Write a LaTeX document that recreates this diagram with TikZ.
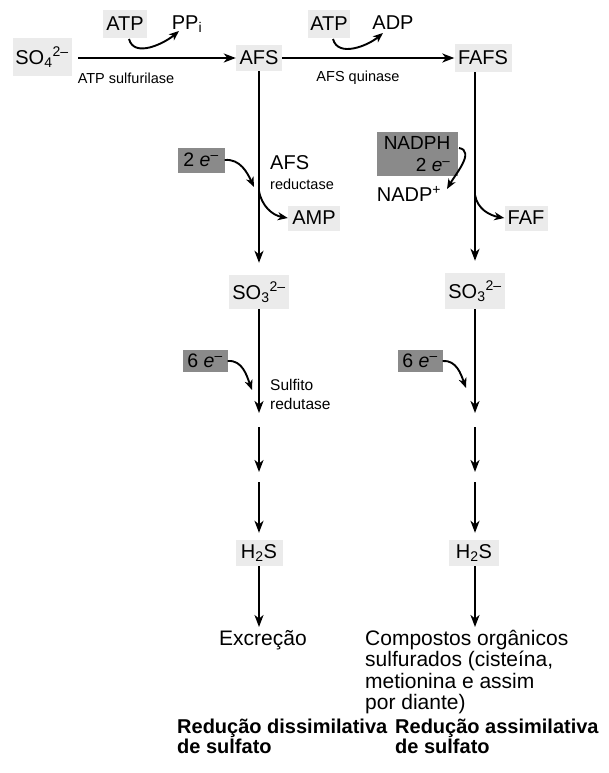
\documentclass[tikz,border=0pt]{standalone}
\usepackage{fontspec}
\setmainfont{Liberation Sans}
\usetikzlibrary{arrows.meta}
\definecolor{lgray}{HTML}{EBEBEB}
\definecolor{dgray}{HTML}{8A8A8A}
\begin{document}
\begin{tikzpicture}[x=1pt,y=1pt,
  lbox/.style={fill=lgray, inner sep=0pt, font=\fontsize{20}{22}\selectfont},
  dbox/.style={fill=dgray, inner sep=0pt, font=\fontsize{19.5}{22}\selectfont},
  txt/.style={inner sep=0pt, font=\fontsize{20}{22}\selectfont},
  small/.style={inner sep=0pt, font=\fontsize{14.5}{17}\selectfont},
  big/.style={inner sep=0pt, font=\fontsize{21}{21.5}\selectfont, align=left},
  bold/.style={inner sep=0pt, font=\fontsize{20}{18}\selectfont\bfseries, align=left},
  flow/.style={line width=2pt, -{Stealth[length=12pt,width=9pt,inset=3.5pt]}},
  curv/.style={line width=1.9pt, -{Stealth[length=10pt,width=8pt,inset=3pt]}},
]
\useasboundingbox (0,0) rectangle (608,-773);

% top row
\node[lbox, minimum width=59, minimum height=38] (so4) at (42,-57) {SO\textsubscript{4}\textsuperscript{2–}};
\node[lbox, minimum width=46, minimum height=26] (afs) at (259,-58) {AFS};
\node[lbox, minimum width=57, minimum height=28] (fafs) at (483,-58) {FAFS};
\node[lbox, minimum width=44, minimum height=28] (atpa) at (125,-24) {ATP};
\node[txt] (ppi) at (187,-24) {PP\textsubscript{i}};
\node[lbox, minimum width=42, minimum height=28] (atpb) at (329,-24) {ATP};
\node[txt] (adp) at (393,-23) {ADP};
\node[small] (sulf) at (126,-78) {ATP sulfurilase};
\node[small] (quin) at (358,-78) {AFS quinase};

\coordinate (so4out) at (78,-58);
\draw[flow] (so4out) -- (afs.west);
\draw[flow] (afs.east) -- (fafs.west);

\coordinate (atpast) at (129,-39);
\coordinate (ppitip) at (179,-31);
\draw[curv] (atpast) to[out=-75,in=-140] (ppitip);
\coordinate (atpbst) at (333,-39);
\coordinate (adptip) at (383,-33);
\draw[curv] (atpbst) to[out=-75,in=-140] (adptip);

% left column
\node[lbox, minimum width=60, minimum height=34] (so3a) at (259,-292) {SO\textsubscript{3}\textsuperscript{2–}};
\draw[flow, shorten >=12pt] (afs.south) -- (so3a.north);

\node[dbox, minimum width=47, minimum height=25] (e2a) at (201,-160) {2 \textit{e}\textsuperscript{–}};
\coordinate (e2tip) at (254,-187);
\draw[curv] (e2a.east) to[out=5,in=115] (e2tip);

\node[lbox, minimum width=52, minimum height=25] (amp) at (314,-218) {AMP};
\coordinate (ampst) at (259,-191);
\draw[curv] (ampst) to[out=-80,in=170] (amp.west);

\node[txt, anchor=west] (afsr) at (270,-163) {AFS};
\node[small, anchor=west] (red) at (270,-184) {reductase};

% right column
\node[lbox, minimum width=60, minimum height=36] (so3b) at (475,-291) {SO\textsubscript{3}\textsuperscript{2–}};
\draw[flow, shorten >=12pt] (fafs.south -| so3b.north) -- (so3b.north);

\node[dbox, minimum width=81, minimum height=44, align=right, font=\fontsize{19}{22}\selectfont] (nadph) at (417,-154) {NADPH\\2 \textit{e}\textsuperscript{–}\hspace{5pt}};
\node[txt] (nadp) at (409,-194) {NADP\textsuperscript{+}};
\coordinate (nst) at (459,-148);
\coordinate (nadptip) at (447,-189);
\draw[curv] (nst) to[out=-10,in=60] (nadptip);

\node[lbox, minimum width=43, minimum height=25] (faf) at (526,-218) {FAF};
\coordinate (fafst) at (475,-195);
\draw[curv] (fafst) to[out=-80,in=170] (faf.west);

% 6 e- inputs
\node[dbox, minimum width=45, minimum height=22] (e6a) at (205,-361) {6 \textit{e}\textsuperscript{–}};
\node[dbox, minimum width=45, minimum height=22] (e6b) at (420,-361) {6 \textit{e}\textsuperscript{–}};
\coordinate (e6atip) at (252,-390);
\coordinate (e6btip) at (466,-388);
\draw[curv] (e6a.east) to[out=5,in=110] (e6atip);
\draw[curv] (e6b.east) to[out=5,in=110] (e6btip);
\node[small, anchor=west, font=\fontsize{15.5}{17}\selectfont] (sulfito) at (270,-385) {Sulfito};
\node[small, anchor=west, font=\fontsize{15.5}{17}\selectfont] (redut) at (270,-404) {redutase};

% H2S
\node[lbox, minimum width=47, minimum height=26] (h2sa) at (259,-553) {H\textsubscript{2}S};
\node[lbox, minimum width=50, minimum height=26] (h2sb) at (474,-553) {H\textsubscript{2}S};

% segmented arrows, left
\coordinate (la1) at (259,-413);
\coordinate (la2) at (259,-427);
\coordinate (la3) at (259,-472);
\coordinate (la4) at (259,-482);
\draw[flow] (so3a.south) -- (la1);
\draw[flow] (la2) -- (la3);
\draw[flow, shorten >=7pt] (la4) -- (h2sa.north);
% right
\coordinate (ra1) at (475,-413);
\coordinate (ra2) at (475,-427);
\coordinate (ra3) at (475,-472);
\coordinate (ra4) at (475,-482);
\draw[flow] (so3b.south -| ra1) -- (ra1);
\draw[flow] (ra2) -- (ra3);
\draw[flow, shorten >=7pt] (ra4) -- (ra4 |- h2sb.north);

% end products
\node[big] (exc) at (263,-640) {Excreção};
\node[big, anchor=north west] (comp) at (365,-630) {Compostos orgânicos\\sulfurados (cisteína,\\metionina e assim\\por diante)};
\coordinate (lend) at (259,-627);
\coordinate (rend) at (475,-627);
\draw[flow] (h2sa.south) -- (lend);
\draw[flow] (h2sb.south -| rend) -- (rend);

% titles
\node[bold, anchor=north west] (tdis) at (177,-719) {Redução dissimilativa\\de sulfato};
\node[bold, anchor=north west] (tass) at (395,-719) {Redução assimilativa\\de sulfato};
\end{tikzpicture}
\end{document}
